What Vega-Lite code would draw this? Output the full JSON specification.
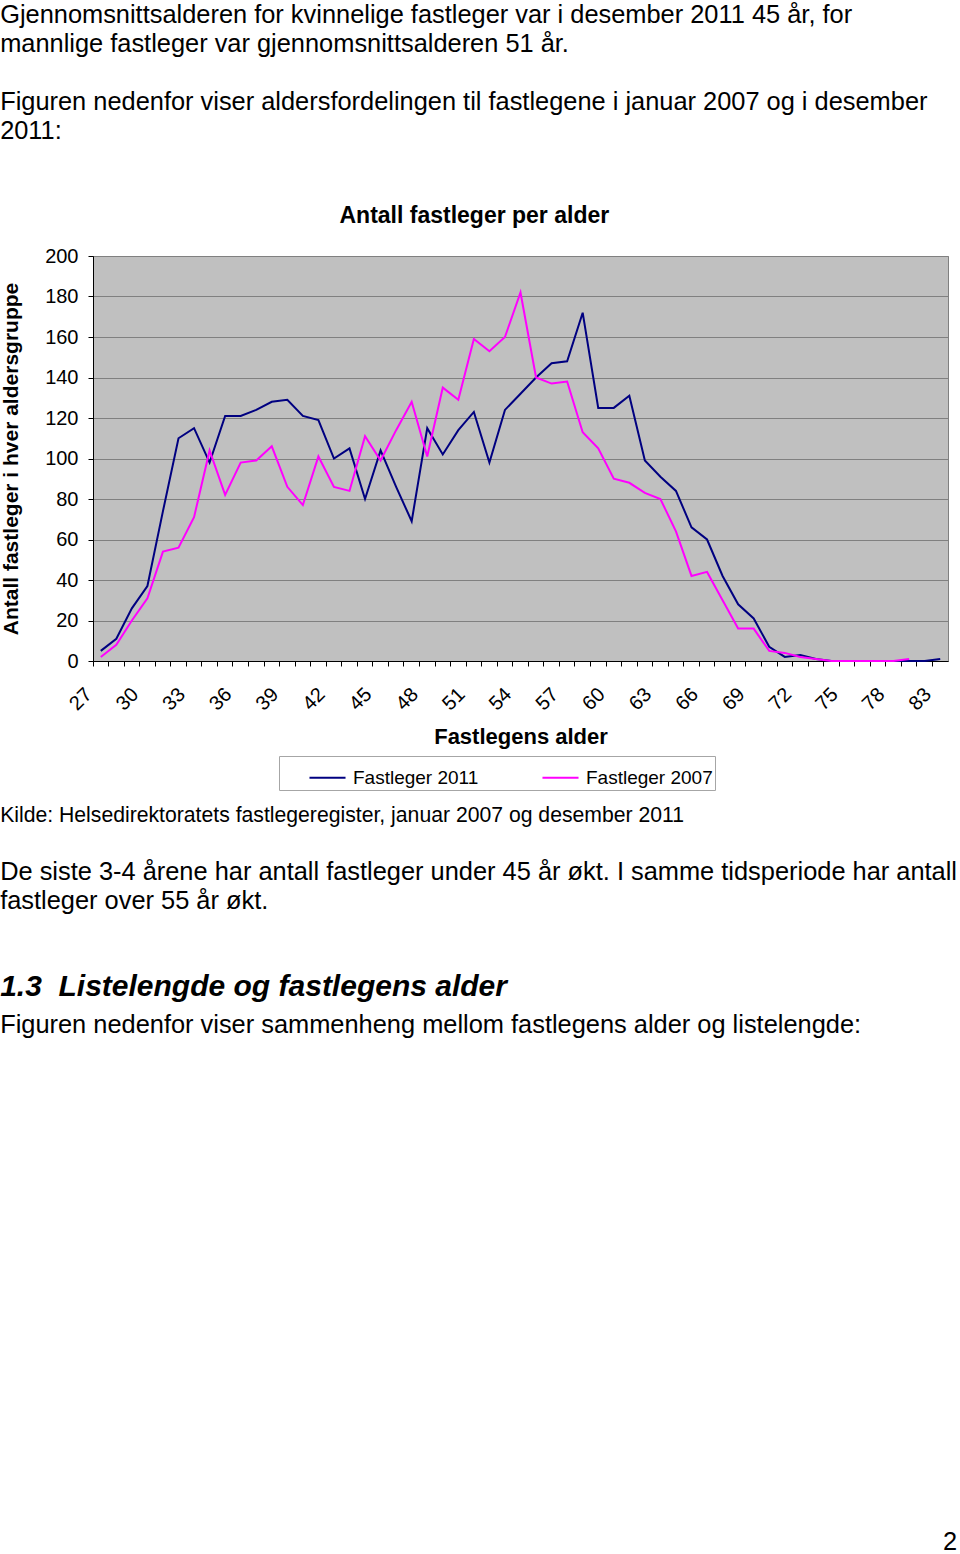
{
  "$schema": "https://vega.github.io/schema/vega-lite/v6.json",
  "padding": {"left": 0, "right": 0, "top": 3, "bottom": 0},
  "background": "white",
  "config": {
    "font": "Liberation Sans",
    "view": {"stroke": null},
    "concat": {"spacing": 0},
    "title": {"color": "black", "fontWeight": "normal"}
  },
  "title": {
    "text": [
      "Gjennomsnittsalderen for kvinnelige fastleger var i desember 2011 45 år, for",
      "mannlige fastleger var gjennomsnittsalderen 51 år."
    ],
    "anchor": "start",
    "frame": "bounds",
    "fontSize": 25.4,
    "lineHeight": 28.7,
    "offset": 33
  },
  "resolve": {"scale": {"color": "independent"}, "legend": {"color": "independent"}},
  "vconcat": [
    {
      "title": {
        "text": [
          "Figuren nedenfor viser aldersfordelingen til fastlegene i januar 2007 og i desember",
          "2011:"
        ],
        "orient": "top",
        "anchor": "start",
        "frame": "bounds",
        "fontSize": 25.4,
        "lineHeight": 28.7,
        "offset": 60
      },
      "resolve": {"scale": {"color": "independent"}, "legend": {"color": "independent"}},
      "vconcat": [
        {
          "title": {"text": "2", "orient": "bottom", "anchor": "end", "frame": "bounds", "fontSize": 25.4, "offset": 492},
          "resolve": {"scale": {"color": "independent"}, "legend": {"color": "independent"}},
          "vconcat": [
            {
              "title": {"text": "Figuren nedenfor viser sammenheng mellom fastlegens alder og listelengde:", "orient": "bottom", "anchor": "start", "frame": "bounds", "fontSize": 25.4, "offset": 11},
              "resolve": {"scale": {"color": "independent"}, "legend": {"color": "independent"}},
              "vconcat": [
                {
                  "title": {"text": "1.3\u00a0\u00a0Listelengde og fastlegens alder", "orient": "bottom", "anchor": "start", "frame": "bounds", "fontSize": 30, "fontWeight": "bold", "fontStyle": "italic", "offset": 57},
                  "resolve": {"scale": {"color": "independent"}, "legend": {"color": "independent"}},
                  "vconcat": [
                    {
                      "title": {"text": ["De siste 3-4 årene har antall fastleger under 45 år økt. I samme tidsperiode har antall", "fastleger over 55 år økt."], "orient": "bottom", "anchor": "start", "frame": "bounds", "fontSize": 25.4, "lineHeight": 29, "offset": 34},
                      "resolve": {"scale": {"color": "independent"}, "legend": {"color": "independent"}},
                      "vconcat": [
                        {
                          "title": {"text": "Kilde: Helsedirektoratets fastlegeregister, januar 2007 og desember 2011", "orient": "bottom", "anchor": "start", "frame": "bounds", "fontSize": 21.2, "offset": 14},
                          "resolve": {"scale": {"color": "independent"}, "legend": {"color": "independent"}},
                          "vconcat": [
                            {
                              "width": 855,
                              "height": 405,
                              "view": {"fill": "#c0c0c0", "stroke": "#808080", "strokeWidth": 1},
                              "title": {
                                "text": "Antall fastleger per alder",
                                "fontSize": 23,
                                "fontWeight": "bold",
                                "anchor": "middle",
                                "frame": "bounds",
                                "offset": 18
                              },
                              "data": {
                                "values": [
                                  {"alder": 27, "serie": "Fastleger 2011", "antall": 5},
                                  {"alder": 28, "serie": "Fastleger 2011", "antall": 11},
                                  {"alder": 29, "serie": "Fastleger 2011", "antall": 26},
                                  {"alder": 30, "serie": "Fastleger 2011", "antall": 37},
                                  {"alder": 31, "serie": "Fastleger 2011", "antall": 74},
                                  {"alder": 32, "serie": "Fastleger 2011", "antall": 110},
                                  {"alder": 33, "serie": "Fastleger 2011", "antall": 115},
                                  {"alder": 34, "serie": "Fastleger 2011", "antall": 98},
                                  {"alder": 35, "serie": "Fastleger 2011", "antall": 121},
                                  {"alder": 36, "serie": "Fastleger 2011", "antall": 121},
                                  {"alder": 37, "serie": "Fastleger 2011", "antall": 124},
                                  {"alder": 38, "serie": "Fastleger 2011", "antall": 128},
                                  {"alder": 39, "serie": "Fastleger 2011", "antall": 129},
                                  {"alder": 40, "serie": "Fastleger 2011", "antall": 121},
                                  {"alder": 41, "serie": "Fastleger 2011", "antall": 119},
                                  {"alder": 42, "serie": "Fastleger 2011", "antall": 100},
                                  {"alder": 43, "serie": "Fastleger 2011", "antall": 105},
                                  {"alder": 44, "serie": "Fastleger 2011", "antall": 80},
                                  {"alder": 45, "serie": "Fastleger 2011", "antall": 104},
                                  {"alder": 46, "serie": "Fastleger 2011", "antall": 86},
                                  {"alder": 47, "serie": "Fastleger 2011", "antall": 69},
                                  {"alder": 48, "serie": "Fastleger 2011", "antall": 115},
                                  {"alder": 49, "serie": "Fastleger 2011", "antall": 102},
                                  {"alder": 50, "serie": "Fastleger 2011", "antall": 114},
                                  {"alder": 51, "serie": "Fastleger 2011", "antall": 123},
                                  {"alder": 52, "serie": "Fastleger 2011", "antall": 98},
                                  {"alder": 53, "serie": "Fastleger 2011", "antall": 124},
                                  {"alder": 54, "serie": "Fastleger 2011", "antall": 132},
                                  {"alder": 55, "serie": "Fastleger 2011", "antall": 140},
                                  {"alder": 56, "serie": "Fastleger 2011", "antall": 147},
                                  {"alder": 57, "serie": "Fastleger 2011", "antall": 148},
                                  {"alder": 58, "serie": "Fastleger 2011", "antall": 172},
                                  {"alder": 59, "serie": "Fastleger 2011", "antall": 125},
                                  {"alder": 60, "serie": "Fastleger 2011", "antall": 125},
                                  {"alder": 61, "serie": "Fastleger 2011", "antall": 131},
                                  {"alder": 62, "serie": "Fastleger 2011", "antall": 99},
                                  {"alder": 63, "serie": "Fastleger 2011", "antall": 91},
                                  {"alder": 64, "serie": "Fastleger 2011", "antall": 84},
                                  {"alder": 65, "serie": "Fastleger 2011", "antall": 66},
                                  {"alder": 66, "serie": "Fastleger 2011", "antall": 60},
                                  {"alder": 67, "serie": "Fastleger 2011", "antall": 42},
                                  {"alder": 68, "serie": "Fastleger 2011", "antall": 28},
                                  {"alder": 69, "serie": "Fastleger 2011", "antall": 21},
                                  {"alder": 70, "serie": "Fastleger 2011", "antall": 7},
                                  {"alder": 71, "serie": "Fastleger 2011", "antall": 2},
                                  {"alder": 72, "serie": "Fastleger 2011", "antall": 3},
                                  {"alder": 73, "serie": "Fastleger 2011", "antall": 1},
                                  {"alder": 74, "serie": "Fastleger 2011", "antall": 0},
                                  {"alder": 75, "serie": "Fastleger 2011", "antall": 0},
                                  {"alder": 76, "serie": "Fastleger 2011", "antall": 0},
                                  {"alder": 77, "serie": "Fastleger 2011", "antall": 0},
                                  {"alder": 78, "serie": "Fastleger 2011", "antall": 0},
                                  {"alder": 79, "serie": "Fastleger 2011", "antall": 0},
                                  {"alder": 80, "serie": "Fastleger 2011", "antall": 0},
                                  {"alder": 83, "serie": "Fastleger 2011", "antall": 1},
                                  {"alder": 27, "serie": "Fastleger 2007", "antall": 2},
                                  {"alder": 28, "serie": "Fastleger 2007", "antall": 8},
                                  {"alder": 29, "serie": "Fastleger 2007", "antall": 20},
                                  {"alder": 30, "serie": "Fastleger 2007", "antall": 31},
                                  {"alder": 31, "serie": "Fastleger 2007", "antall": 54},
                                  {"alder": 32, "serie": "Fastleger 2007", "antall": 56},
                                  {"alder": 33, "serie": "Fastleger 2007", "antall": 71},
                                  {"alder": 34, "serie": "Fastleger 2007", "antall": 104},
                                  {"alder": 35, "serie": "Fastleger 2007", "antall": 82},
                                  {"alder": 36, "serie": "Fastleger 2007", "antall": 98},
                                  {"alder": 37, "serie": "Fastleger 2007", "antall": 99},
                                  {"alder": 38, "serie": "Fastleger 2007", "antall": 106},
                                  {"alder": 39, "serie": "Fastleger 2007", "antall": 86},
                                  {"alder": 40, "serie": "Fastleger 2007", "antall": 77},
                                  {"alder": 41, "serie": "Fastleger 2007", "antall": 101},
                                  {"alder": 42, "serie": "Fastleger 2007", "antall": 86},
                                  {"alder": 43, "serie": "Fastleger 2007", "antall": 84},
                                  {"alder": 44, "serie": "Fastleger 2007", "antall": 111},
                                  {"alder": 45, "serie": "Fastleger 2007", "antall": 99},
                                  {"alder": 46, "serie": "Fastleger 2007", "antall": 114},
                                  {"alder": 47, "serie": "Fastleger 2007", "antall": 128},
                                  {"alder": 48, "serie": "Fastleger 2007", "antall": 101},
                                  {"alder": 49, "serie": "Fastleger 2007", "antall": 135},
                                  {"alder": 50, "serie": "Fastleger 2007", "antall": 129},
                                  {"alder": 51, "serie": "Fastleger 2007", "antall": 159},
                                  {"alder": 52, "serie": "Fastleger 2007", "antall": 153},
                                  {"alder": 53, "serie": "Fastleger 2007", "antall": 160},
                                  {"alder": 54, "serie": "Fastleger 2007", "antall": 182},
                                  {"alder": 55, "serie": "Fastleger 2007", "antall": 140},
                                  {"alder": 56, "serie": "Fastleger 2007", "antall": 137},
                                  {"alder": 57, "serie": "Fastleger 2007", "antall": 138},
                                  {"alder": 58, "serie": "Fastleger 2007", "antall": 113},
                                  {"alder": 59, "serie": "Fastleger 2007", "antall": 105},
                                  {"alder": 60, "serie": "Fastleger 2007", "antall": 90},
                                  {"alder": 61, "serie": "Fastleger 2007", "antall": 88},
                                  {"alder": 62, "serie": "Fastleger 2007", "antall": 83},
                                  {"alder": 63, "serie": "Fastleger 2007", "antall": 80},
                                  {"alder": 64, "serie": "Fastleger 2007", "antall": 64},
                                  {"alder": 65, "serie": "Fastleger 2007", "antall": 42},
                                  {"alder": 66, "serie": "Fastleger 2007", "antall": 44},
                                  {"alder": 67, "serie": "Fastleger 2007", "antall": 30},
                                  {"alder": 68, "serie": "Fastleger 2007", "antall": 16},
                                  {"alder": 69, "serie": "Fastleger 2007", "antall": 16},
                                  {"alder": 70, "serie": "Fastleger 2007", "antall": 5},
                                  {"alder": 71, "serie": "Fastleger 2007", "antall": 4},
                                  {"alder": 72, "serie": "Fastleger 2007", "antall": 2},
                                  {"alder": 73, "serie": "Fastleger 2007", "antall": 1},
                                  {"alder": 74, "serie": "Fastleger 2007", "antall": 0},
                                  {"alder": 75, "serie": "Fastleger 2007", "antall": 0},
                                  {"alder": 76, "serie": "Fastleger 2007", "antall": 0},
                                  {"alder": 77, "serie": "Fastleger 2007", "antall": 0},
                                  {"alder": 78, "serie": "Fastleger 2007", "antall": 0},
                                  {"alder": 79, "serie": "Fastleger 2007", "antall": 1}
                                ]
                              },
                              "mark": {"type": "line", "strokeWidth": 2},
                              "encoding": {
                                "x": {
                                  "field": "alder",
                                  "type": "ordinal",
                                  "sort": "ascending",
                                  "scale": {"type": "band", "paddingInner": 0, "paddingOuter": 0},
                                  "axis": {
                                    "title": "Fastlegens alder",
                                    "titleFontSize": 22,
                                    "titleFontWeight": "bold",
                                    "titleColor": "black",
                                    "titlePadding": 13,
                                    "labelAngle": -45,
                                    "labelAlign": "right",
                                    "labelBaseline": "middle",
                                    "labelFontSize": 20,
                                    "labelColor": "black",
                                    "labelPadding": 25,
                                    "labelOffset": -12,
                                    "labelOverlap": false,
                                    "labelExpr": "datum.value % 3 == 0 || datum.value == 83 ? datum.label : ''",
                                    "bandPosition": 0,
                                    "tickSize": 5,
                                    "tickColor": "black",
                                    "domainColor": "black",
                                    "grid": false
                                  }
                                },
                                "y": {
                                  "field": "antall",
                                  "type": "quantitative",
                                  "scale": {"domain": [0, 200], "nice": false},
                                  "axis": {
                                    "values": [0, 20, 40, 60, 80, 100, 120, 140, 160, 180, 200],
                                    "title": "Antall fastleger i hver aldersgruppe",
                                    "titleFontSize": 21,
                                    "titleFontWeight": "bold",
                                    "titleColor": "black",
                                    "titlePadding": 23,
                                    "labelFontSize": 20,
                                    "labelColor": "black",
                                    "labelPadding": 10,
                                    "tickSize": 5,
                                    "tickColor": "black",
                                    "domainColor": "black",
                                    "grid": true,
                                    "gridColor": "#808080",
                                    "gridWidth": 1
                                  }
                                },
                                "color": {
                                  "field": "serie",
                                  "type": "nominal",
                                  "scale": {"domain": ["Fastleger 2011", "Fastleger 2007"], "range": ["#000080", "#ff00ff"]},
                                  "legend": {
                                    "orient": "none",
                                    "legendX": 186,
                                    "legendY": 500,
                                    "direction": "horizontal",
                                    "title": null,
                                    "symbolType": "stroke",
                                    "symbolSize": 1300,
                                    "symbolStrokeWidth": 2,
                                    "symbolOffset": 27,
                                    "labelFontSize": 19,
                                    "labelColor": "black",
                                    "labelOffset": 6,
                                    "columnPadding": 35,
                                    "padding": 2,
                                    "strokeColor": "#a6a6a6"
                                  }
                                }
                              }
                            }
                          ]
                        }
                      ]
                    }
                  ]
                }
              ]
            }
          ]
        }
      ]
    }
  ]
}
